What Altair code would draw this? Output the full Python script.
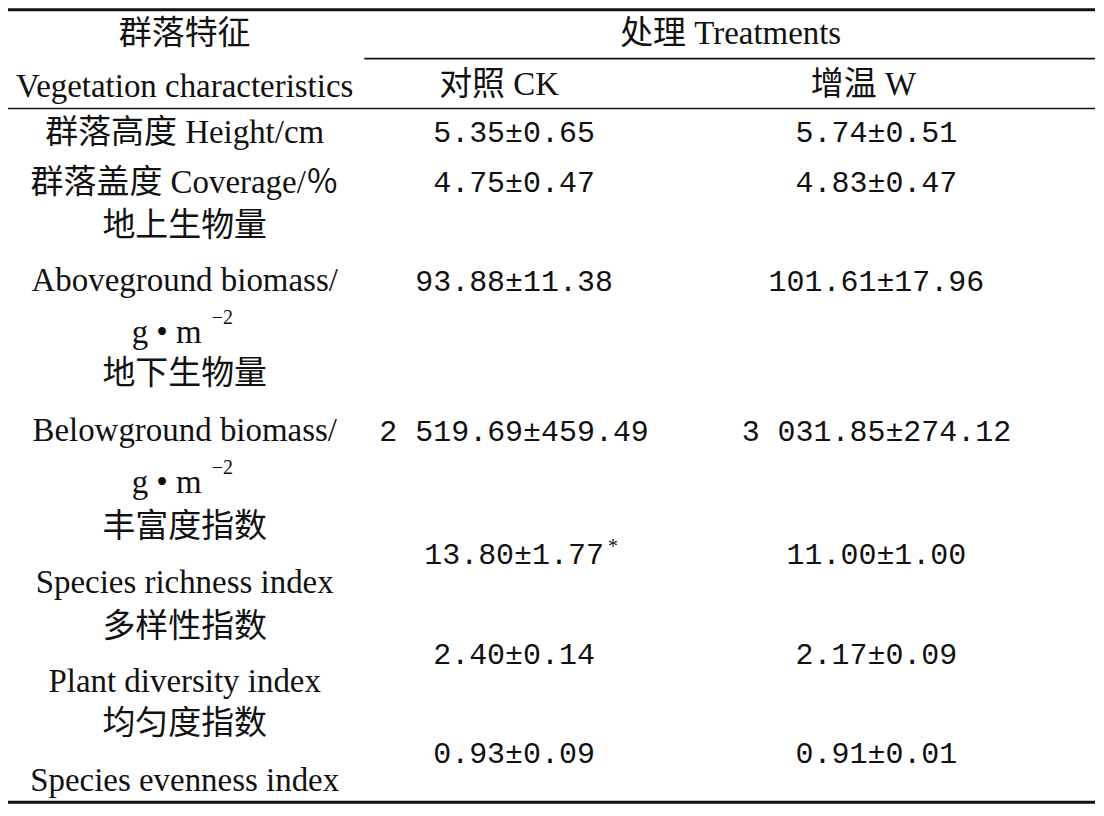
import altair as alt
import pandas as pd

# ---------------- data (text content of the table) ----------------
header_left = ["群落特征", "Vegetation characteristics"]
header_group = "处理 Treatments"
header_cols = ["对照 CK", "增温 W"]

row_labels = [
    ["群落高度 Height/cm"],
    ["群落盖度 Coverage/％"],
    ["地上生物量", "Aboveground biomass/", "g • m"],
    ["地下生物量", "Belowground biomass/", "g • m"],
    ["丰富度指数", "Species richness index"],
    ["多样性指数", "Plant diversity index"],
    ["均匀度指数", "Species evenness index"],
]
unit_sup = ["", "", "−2", "−2", "", "", ""]
ck_values = ["5.35±0.65", "4.75±0.47", "93.88±11.38", "2 519.69±459.49",
             "13.80±1.77", "2.40±0.14", "0.93±0.09"]
w_values = ["5.74±0.51", "4.83±0.47", "101.61±17.96", "3 031.85±274.12",
            "11.00±1.00", "2.17±0.09", "0.91±0.01"]
significance = ["", "", "", "", "*", "", ""]

# ---------------- layout ----------------
LABEL_X, CK_X, W_X = 185, 515, 878
CKH_X, WH_X, GROUP_X = 500, 865, 732
label_line_y = [[133], [183], [226, 281, 333], [374, 431, 483],
                [527, 583], [627, 683], [725, 782]]
value_y = [133, 183, 282, 432, 555, 655, 755]
NUM_FS = 30
CHAR_W = NUM_FS * 0.6
LABEL_FS = 33

serif_rows, num_rows, small_rows = [], [], []
serif_rows.append(dict(x=LABEL_X, y=33, t=header_left[0]))
serif_rows.append(dict(x=LABEL_X, y=86, t=header_left[1]))
serif_rows.append(dict(x=GROUP_X, y=33, t=header_group))
serif_rows.append(dict(x=CKH_X, y=84, t=header_cols[0]))
serif_rows.append(dict(x=WH_X, y=84, t=header_cols[1]))

for i, lines in enumerate(row_labels):
    for j, line in enumerate(lines):
        x = LABEL_X
        if unit_sup[i] and j == len(lines) - 1:
            x = LABEL_X - 18
        serif_rows.append(dict(x=x, y=label_line_y[i][j], t=line))
    if unit_sup[i]:
        small_rows.append(dict(x=LABEL_X + 27, y=label_line_y[i][-1] - 15,
                               t=unit_sup[i]))
    num_rows.append(dict(x=CK_X, y=value_y[i], t=ck_values[i]))
    num_rows.append(dict(x=W_X, y=value_y[i], t=w_values[i]))
    if significance[i]:
        small_rows.append(dict(x=CK_X + len(ck_values[i]) * CHAR_W / 2 + 4,
                               y=value_y[i] - 8, t=significance[i]))

lines_df = pd.DataFrame([
    dict(x=8, x2=1097, y=9, w=3),
    dict(x=365, x2=1097, y=58, w=1.6),
    dict(x=8, x2=1097, y=108, w=1.6),
    dict(x=8, x2=1097, y=803, w=3),
])

xs = alt.Scale(domain=[8, 1098], zero=False, nice=False)
ys = alt.Scale(domain=[8, 808], zero=False, nice=False, reverse=True)

SERIF = '"Liberation Serif", "Noto Sans CJK SC", serif'

serif_layer = alt.Chart(pd.DataFrame(serif_rows)).mark_text(
    font=SERIF, fontSize=LABEL_FS, align="center", baseline="middle", color="#111111"
).encode(
    x=alt.X("x:Q", scale=xs, axis=None),
    y=alt.Y("y:Q", scale=ys, axis=None),
    text="t:N",
)

num_layer = alt.Chart(pd.DataFrame(num_rows)).mark_text(
    font='"Liberation Mono", "Noto Sans CJK SC", monospace', fontSize=NUM_FS,
    align="center", baseline="middle", color="#111111"
).encode(
    x=alt.X("x:Q", scale=xs, axis=None),
    y=alt.Y("y:Q", scale=ys, axis=None),
    text="t:N",
)

small_layer = alt.Chart(pd.DataFrame(small_rows)).mark_text(
    font=SERIF, fontSize=20, align="left", baseline="middle", color="#111111"
).encode(
    x=alt.X("x:Q", scale=xs, axis=None),
    y=alt.Y("y:Q", scale=ys, axis=None),
    text="t:N",
)

rule_layer = alt.Chart(lines_df).mark_rule(color="#111111").encode(
    x=alt.X("x:Q", scale=xs, axis=None),
    x2="x2:Q",
    y=alt.Y("y:Q", scale=ys, axis=None),
    strokeWidth=alt.StrokeWidth("w:Q", scale=None, legend=None),
)

chart = alt.layer(rule_layer, serif_layer, num_layer, small_layer).properties(
    width=1090, height=800, padding=0, autosize="none", background="white"
).configure_view(stroke=None)

chart.save("out.html", embed_options={"renderer": "svg", "actions": False})
